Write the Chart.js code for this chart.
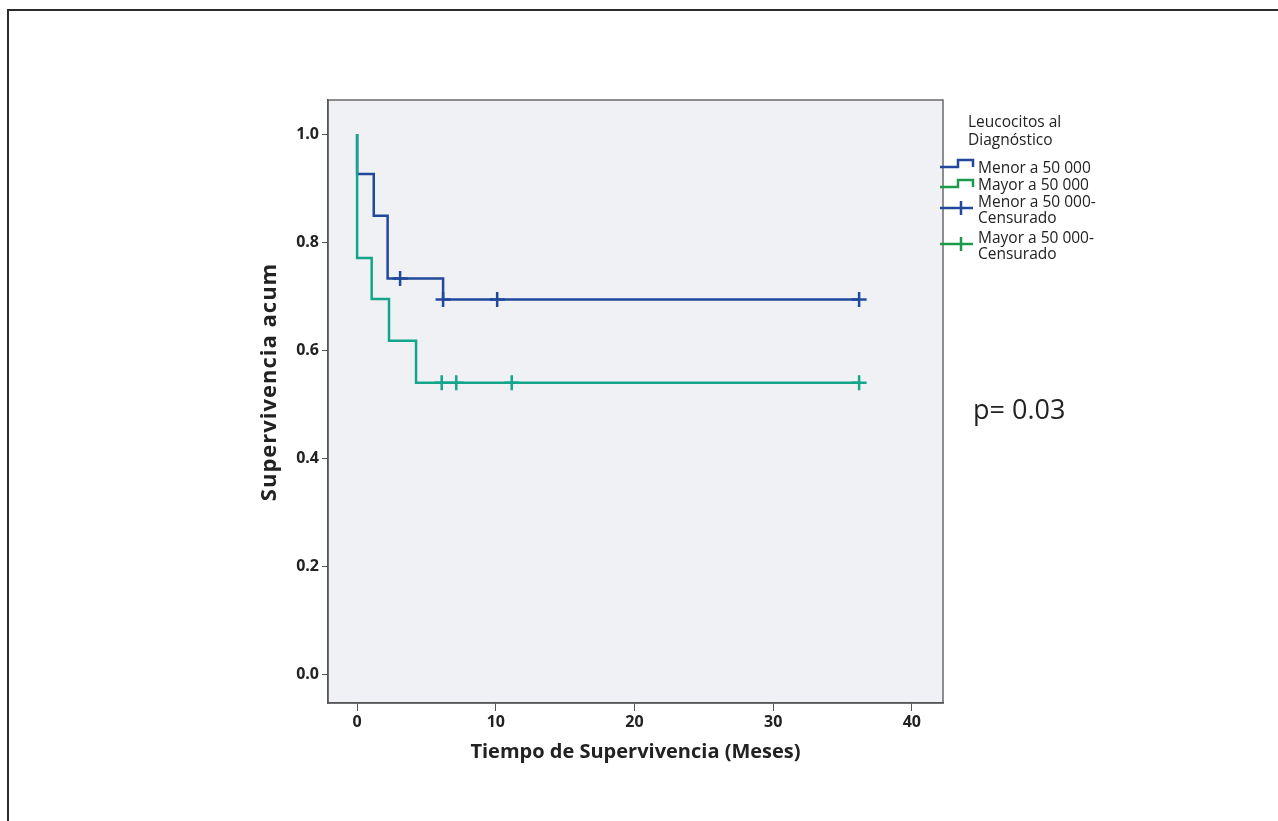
<!DOCTYPE html>
<html lang="es">
<head>
<meta charset="utf-8">
<title>Supervivencia acumulada según leucocitos al diagnóstico</title>
<script src="https://cdn.jsdelivr.net/npm/chart.js@4.4.1/dist/chart.umd.min.js"></script>
<style>
  html, body { margin: 0; padding: 0; background: #fff; overflow: hidden; }
  #wrap { position: relative; width: 1278px; height: 821px; }
  #frame { position: absolute; left: 7px; top: 9px; width: 1300px; height: 840px; border: 2px solid #2b2b2b; box-sizing: border-box; }
  #km { position: absolute; left: 0; top: 0; }
</style>
</head>
<body>
<div id="wrap">
  <div id="frame"></div>
  <canvas id="km" width="1278" height="821"></canvas>
</div>
<script>
// axis ticks
const xTicks = [0, 10, 20, 30, 40];
const yTicks = [0, 0.2, 0.4, 0.6, 0.8, 1.0];

// Menor a 50 000: event steps + censored marks
const menorTime = [0, 0, 1.2, 2.2, 6.2, 36.2];
const menorSurv = [1.0, 0.926, 0.849, 0.733, 0.694, 0.694];
const menorCensTime = [3.1, 6.2, 10.1, 36.2];
const menorCensSurv = [0.733, 0.694, 0.694, 0.694];

// Mayor a 50 000
const mayorTime = [0, 0, 1.05, 2.3, 4.25, 36.2];
const mayorSurv = [1.0, 0.771, 0.695, 0.618, 0.540, 0.540];
const mayorCensTime = [6.1, 7.15, 11.15, 36.2];
const mayorCensSurv = [0.540, 0.540, 0.540, 0.540];

const xTitle = "Tiempo de Supervivencia (Meses)";
const yTitle = "Supervivencia acum";
const legendTitle = ["Leucocitos al", "Diagnóstico"];
const legendLabels = [
  ["Menor a 50 000"],
  ["Mayor a 50 000"],
  ["Menor a 50 000-", "Censurado"],
  ["Mayor a 50 000-", "Censurado"],
];
const pText = "p= 0.03";

const BLUE = "#22489c";
const TEAL = "#14a68b";
const LEG_GREEN = "#1c9a4c";
const INK = "#222";
const FONT = "'Open Sans', 'Noto Sans', sans-serif";

Chart.defaults.font.family = FONT;
Chart.defaults.color = INK;

const pts = (xs, ys) => xs.map((x, i) => ({ x, y: ys[i] }));

const plotBg = {
  id: "plotBg",
  beforeDraw(chart) {
    const { ctx, chartArea: a } = chart;
    ctx.save();
    ctx.fillStyle = "#f0f1f4";
    ctx.fillRect(a.left, a.top, a.width, a.height);
    ctx.strokeStyle = "#6a6a6a";
    ctx.lineWidth = 1.5;
    ctx.strokeRect(a.left, a.top, a.width, a.height);
    ctx.restore();
  },
};

// y title drawn by hand: it sits a bit above the plot's middle
const yAxisTitle = {
  id: "yAxisTitle",
  afterDraw(chart) {
    const { ctx } = chart;
    ctx.save();
    ctx.translate(270, 382);
    ctx.rotate(-Math.PI / 2);
    ctx.font = `bold 22px ${FONT}`;
    ctx.letterSpacing = "1px";
    ctx.fillStyle = INK;
    ctx.textAlign = "center";
    ctx.textBaseline = "middle";
    ctx.fillText(yTitle, 0, 0);
    ctx.restore();
  },
};

const kmLegend = {
  id: "kmLegend",
  afterDraw(chart) {
    const { ctx, chartArea: a } = chart;
    const x0 = a.right - 3;
    const tx = x0 + 38;
    ctx.save();
    ctx.font = `15.5px ${FONT}`;
    ctx.fillStyle = INK;
    ctx.textBaseline = "middle";
    ctx.fillText(legendTitle[0], x0 + 28, 123);
    ctx.fillText(legendTitle[1], x0 + 28, 141);

    ctx.lineWidth = 2.5;
    // step icons
    [[BLUE, 167], [LEG_GREEN, 187]].forEach(([c, y]) => {
      ctx.strokeStyle = c;
      ctx.beginPath();
      ctx.moveTo(x0, y);
      ctx.lineTo(x0 + 18, y);
      ctx.lineTo(x0 + 18, y - 7);
      ctx.lineTo(x0 + 33, y - 7);
      ctx.lineTo(x0 + 33, y);
      ctx.stroke();
    });
    ctx.fillText(legendLabels[0][0], tx, 169);
    ctx.fillText(legendLabels[1][0], tx, 186);

    // censored icons
    [[BLUE, 208, 2], [LEG_GREEN, 244, 3]].forEach(([c, y, i]) => {
      ctx.strokeStyle = c;
      ctx.beginPath();
      ctx.moveTo(x0, y);
      ctx.lineTo(x0 + 33, y);
      ctx.moveTo(x0 + 21, y - 7);
      ctx.lineTo(x0 + 21, y + 7);
      ctx.stroke();
      ctx.fillText(legendLabels[i][0], tx, y - 5);
      ctx.fillText(legendLabels[i][1], tx, y + 11);
    });

    ctx.font = `27px ${FONT}`;
    ctx.fillText(pText, x0 + 33, 411);
    ctx.restore();
  },
};

const lineDs = (label, data, color) => ({
  label, data, borderColor: color, borderWidth: 2.5,
  stepped: "before", pointRadius: 0, fill: false, showLine: true,
});
const censDs = (label, data, color) => ({
  label, data, borderColor: color, backgroundColor: color, borderWidth: 2.5,
  showLine: false, pointStyle: "cross", pointRadius: 7.5,
});

new Chart(document.getElementById("km"), {
  type: "scatter",
  data: {
    datasets: [
      lineDs("Mayor a 50 000", pts(mayorTime, mayorSurv), TEAL),
      censDs("Mayor a 50 000-Censurado", pts(mayorCensTime, mayorCensSurv), TEAL),
      lineDs("Menor a 50 000", pts(menorTime, menorSurv), BLUE),
      censDs("Menor a 50 000-Censurado", pts(menorCensTime, menorCensSurv), BLUE),
    ],
  },
  options: {
    responsive: false,
    animation: false,
    layout: { padding: { left: 252, right: 335, top: 100, bottom: 53 } },
    plugins: { legend: { display: false }, tooltip: { enabled: false } },
    scales: {
      x: {
        type: "linear",
        min: -2.1,
        max: 42.25,
        afterBuildTicks: (s) => { s.ticks = xTicks.map((v) => ({ value: v })); },
        afterFit: (s) => { s.height = 65; },
        grid: { drawOnChartArea: false, drawTicks: true, tickLength: 8, color: "#555" },
        border: { color: "#555", width: 1.5 },
        ticks: { font: { size: 16, weight: "bold" }, color: INK, padding: 2, maxRotation: 0 },
        title: { display: true, text: xTitle, font: { size: 20, weight: "bold" }, color: INK },
      },
      y: {
        type: "linear",
        min: -0.052,
        max: 1.063,
        afterBuildTicks: (s) => { s.ticks = yTicks.map((v) => ({ value: v })); },
        afterFit: (s) => { s.width = 76; },
        grid: { drawOnChartArea: false, drawTicks: true, tickLength: 6, color: "#555" },
        border: { color: "#555", width: 1.5 },
        ticks: { font: { size: 16, weight: "bold" }, color: INK, padding: 3, callback: (v) => v.toFixed(1) },
        title: { display: false },
      },
    },
  },
  plugins: [plotBg, yAxisTitle, kmLegend],
});
</script>
</body>
</html>
